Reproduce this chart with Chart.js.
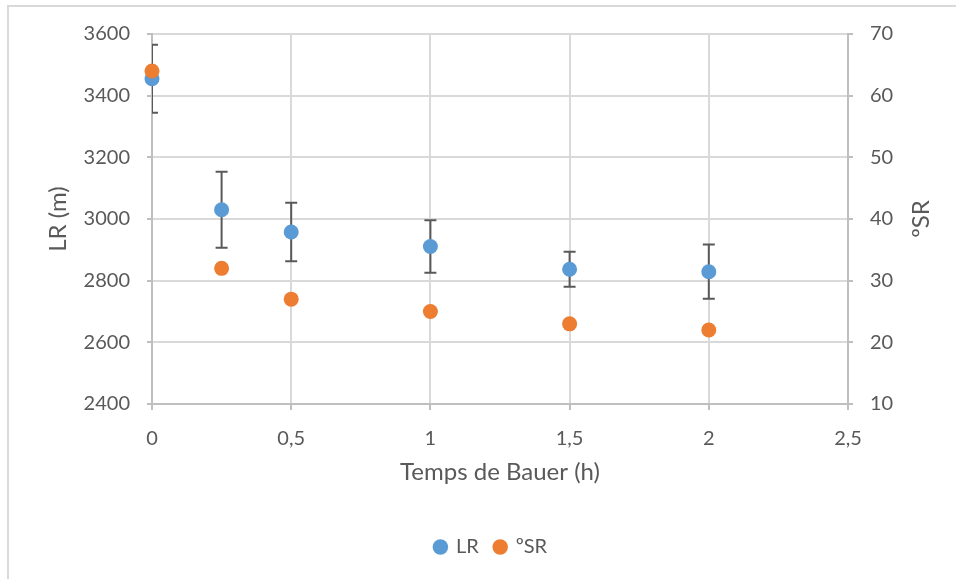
<!DOCTYPE html>
<html>
<head>
<meta charset="utf-8">
<script src="https://cdn.jsdelivr.net/npm/chart.js@4.4.1/dist/chart.umd.min.js"></script>
<style>
  html, body { margin: 0; padding: 0; background: #fff; overflow: hidden; }
  #wrap { position: relative; width: 956px; height: 579px; }
  #frame {
    position: absolute; left: 7px; top: 5px; width: 1000px; height: 700px;
    border-left: 2px solid #d9d9d9; border-top: 2px solid #d9d9d9;
    pointer-events: none;
  }
  canvas { position: absolute; left: 0; top: 0; }
</style>
</head>
<body>
<div id="wrap">
  <canvas id="chart" width="956" height="579"></canvas>
  <div id="frame"></div>
</div>
<script>
// Bauer time (h) against LR and ºSR
const times = [0, 0.25, 0.5, 1, 1.5, 2];
const lrValues = [3455, 3030, 2958, 2911, 2837, 2829];
const lrErrors = [110, 123, 95, 85, 57, 88];
const srValues = [64, 32, 27, 25, 23, 22];

const xTicks = [0, 0.5, 1, 1.5, 2, 2.5];
const lrTicks = [2400, 2600, 2800, 3000, 3200, 3400, 3600];
const srTicks = [10, 20, 30, 40, 50, 60, 70];

const FONT = "Lato, 'Open Sans', sans-serif";
const TEXT = "#595959";
const GRID = "#d9d9d9";
const AXIS = "#bfbfbf";
const TICK_SIZE = 20;
const TITLE_SIZE = 24;

// vertical error bars for the LR series, drawn under the markers
const errorBars = {
  id: "errorBars",
  beforeDatasetsDraw(chart) {
    const { ctx, chartArea, scales } = chart;
    ctx.save();
    ctx.beginPath();
    ctx.rect(chartArea.left, chartArea.top - 20, chartArea.width, chartArea.height + 40);
    ctx.clip();
    ctx.strokeStyle = "#595959";
    ctx.lineWidth = 2;
    times.forEach((t, i) => {
      const x = scales.x.getPixelForValue(t);
      const yTop = scales.y.getPixelForValue(lrValues[i] + lrErrors[i]);
      const yBot = scales.y.getPixelForValue(lrValues[i] - lrErrors[i]);
      ctx.beginPath();
      ctx.moveTo(x, yTop); ctx.lineTo(x, yBot);
      ctx.moveTo(x - 6, yTop); ctx.lineTo(x + 6, yTop);
      ctx.moveTo(x - 6, yBot); ctx.lineTo(x + 6, yBot);
      ctx.stroke();
    });
    ctx.restore();
  }
};

// secondary axis title, read bottom to top like the primary one
const rightTitle = {
  id: "rightTitle",
  afterDraw(chart) {
    const { ctx, chartArea } = chart;
    ctx.save();
    ctx.translate(921, (chartArea.top + chartArea.bottom) / 2);
    ctx.rotate(-Math.PI / 2);
    ctx.font = TITLE_SIZE + "px " + FONT;
    ctx.fillStyle = TEXT;
    ctx.textAlign = "center";
    ctx.textBaseline = "middle";
    ctx.fillText("ºSR", 0, 0);
    ctx.restore();
  }
};

new Chart(document.getElementById("chart"), {
  type: "scatter",
  data: {
    datasets: [
      {
        label: "LR",
        data: times.map((t, i) => ({ x: t, y: lrValues[i] })),
        yAxisID: "y",
        backgroundColor: "#5b9bd5",
        borderColor: "#5b9bd5",
        borderWidth: 0,
        pointRadius: 7.5,
        pointHoverRadius: 7.5,
        clip: false,
        order: 1
      },
      {
        label: "ºSR",
        data: times.map((t, i) => ({ x: t, y: srValues[i] })),
        yAxisID: "y2",
        backgroundColor: "#ed7d31",
        borderColor: "#ed7d31",
        borderWidth: 0,
        pointRadius: 7.5,
        pointHoverRadius: 7.5,
        clip: false,
        order: 0
      }
    ]
  },
  options: {
    responsive: false,
    animation: false,
    // left padding shifts the centred legend; the y axis width makes up for it
    layout: { padding: { left: 26, right: 0, top: 34, bottom: 12 } },
    plugins: {
      tooltip: { enabled: false },
      legend: {
        position: "bottom",
        labels: {
          usePointStyle: true,
          pointStyle: "circle",
          boxWidth: 11,
          boxHeight: 11,
          padding: 16,
          color: TEXT,
          font: { family: FONT, size: TICK_SIZE },
          sort: (a, b) => a.datasetIndex - b.datasetIndex
        }
      }
    },
    scales: {
      x: {
        type: "linear",
        min: 0,
        max: 2.5,
        afterBuildTicks: s => { s.ticks = xTicks.map(v => ({ value: v })); },
        afterFit: s => { s.height = 117; },
        ticks: {
          color: TEXT,
          padding: 17,
          font: { family: FONT, size: TICK_SIZE },
          callback: v => String(v).replace(".", ",")
        },
        grid: { color: GRID, lineWidth: 2, tickLength: 6, tickColor: AXIS },
        border: { color: AXIS, width: 2 },
        title: {
          display: true,
          text: "Temps de Bauer (h)",
          color: TEXT,
          font: { family: FONT, size: TITLE_SIZE, lineHeight: 1.2 },
          padding: { top: 0, bottom: 34 }
        }
      },
      y: {
        position: "left",
        min: 2400,
        max: 3600,
        afterBuildTicks: s => { s.ticks = lrTicks.map(v => ({ value: v })); },
        afterFit: s => { s.width = 126; },
        ticks: {
          color: TEXT,
          padding: 17,
          font: { family: FONT, size: TICK_SIZE },
          callback: v => String(v)
        },
        grid: { color: GRID, lineWidth: 2, tickLength: 5, tickColor: AXIS },
        border: { color: AXIS, width: 2 },
        title: {
          display: true,
          text: "LR (m)",
          color: TEXT,
          font: { family: FONT, size: TITLE_SIZE, lineHeight: 1.2 },
          padding: { top: 18, bottom: 0 }
        }
      },
      y2: {
        position: "right",
        min: 10,
        max: 70,
        afterBuildTicks: s => { s.ticks = srTicks.map(v => ({ value: v })); },
        afterFit: s => { s.width = 108; },
        ticks: {
          color: TEXT,
          padding: 17,
          font: { family: FONT, size: TICK_SIZE },
          callback: v => String(v)
        },
        grid: { drawOnChartArea: false, tickLength: 5, tickColor: AXIS, lineWidth: 2 },
        border: { color: AXIS, width: 2 }
      }
    }
  },
  plugins: [errorBars, rightTitle]
});
</script>
</body>
</html>
